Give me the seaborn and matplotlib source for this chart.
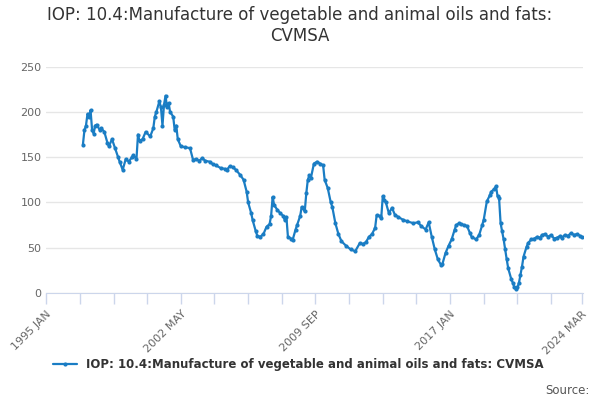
import matplotlib

matplotlib.use("Agg")
import matplotlib.pyplot as plt
import pandas as pd
import seaborn as sns

# months since 1995 JAN
month_offset = [
    24, 25, 26, 27, 28, 29, 30, 31, 32, 33, 35, 36, 38, 40, 41, 43, 45, 47, 48, 50,
    52, 54, 56, 57, 59, 60, 61, 63, 65, 68, 70, 71, 72, 74, 75, 76, 77, 78, 79, 80,
    81, 83, 84, 85, 86, 88, 91, 94, 96, 98, 100, 102, 104, 107, 109, 111, 114, 117, 118, 120,
    122, 124, 127, 129, 131, 132, 134, 135, 137, 138, 140, 142, 144, 146, 147, 148, 149, 151, 153, 155,
    156, 157, 158, 160, 161, 163, 164, 166, 167, 169, 170, 171, 172, 173, 175, 177, 179, 181, 182, 184,
    186, 187, 189, 191, 193, 196, 199, 202, 205, 207, 209, 211, 213, 215, 216, 218, 219, 220, 221, 222,
    224, 226, 228, 230, 233, 236, 240, 243, 245, 248, 250, 252, 254, 256, 258, 259, 261, 263, 265, 267,
    268, 270, 271, 273, 275, 277, 278, 281, 283, 285, 286, 288, 290, 291, 293, 294, 295, 296, 297, 298,
    299, 300, 301, 302, 304, 305, 306, 307, 308, 309, 310, 311, 312, 314, 315, 317, 319, 321, 323, 324,
    326, 328, 330, 332, 334, 336, 337, 339, 341, 343, 345, 347, 349, 350,
]
values = [
    164, 180, 185, 198, 195, 202, 180, 176, 185, 186, 180, 182, 178, 166, 162, 170, 160, 150, 145, 136,
    148, 145, 150, 152, 148, 175, 168, 170, 178, 173, 182, 195, 200, 212, 205, 185, 208, 218, 205, 210,
    200, 195, 180, 185, 170, 162, 161, 160, 147, 148, 146, 149, 146, 145, 142, 141, 138, 137, 136, 140,
    139, 136, 130, 125, 112, 100, 88, 80, 68, 63, 62, 65, 73, 76, 85, 106, 97, 92, 88, 85,
    80, 84, 62, 60, 58, 70, 75, 85, 95, 90, 110, 125, 130, 127, 143, 145, 143, 141, 125, 116,
    100, 95, 77, 65, 57, 52, 48, 46, 55, 54, 56, 62, 65, 72, 86, 85, 83, 107, 103, 100,
    88, 94, 86, 84, 81, 79, 77, 78, 74, 70, 78, 62, 48, 37, 31, 32, 44, 52, 59, 70,
    75, 77, 76, 75, 74, 66, 62, 59, 64, 75, 81, 101, 108, 112, 115, 118, 107, 105, 77, 68,
    59, 48, 37, 27, 15, 11, 6, 4, 6, 11, 20, 29, 40, 51, 55, 59, 60, 62, 61, 64,
    65, 62, 64, 60, 61, 63, 61, 64, 63, 66, 64, 65, 63, 62,
]
tick_pos = [0, 88, 176, 264, 350]
tick_labels = ["1995 JAN", "2002 MAY", "2009 SEP", "2017 JAN", "2024 MAR"]
series_name = "IOP: 10.4:Manufacture of vegetable and animal oils and fats: CVMSA"

df = pd.DataFrame({"month": month_offset, "value": values})

sns.set_style("white")
fig = plt.figure(figsize=(6, 4), dpi=100)
ax = fig.add_axes([0.077, 0.268, 0.895, 0.565])

sns.lineplot(data=df, x="month", y="value", ax=ax, color="#1a7dc4", linewidth=1.6,
             marker="o", markersize=3, markeredgewidth=0, label=series_name)

ax.set_xlim(0, 351)
ax.set_ylim(0, 250)
ax.set_yticks(range(0, 251, 50))
ax.yaxis.grid(True, color="#e6e6e6", linewidth=1)
ax.set_axisbelow(True)
ax.set_xticks(tick_pos)
ax.set_xticklabels(tick_labels, rotation=45, ha="right", rotation_mode="anchor",
                   fontsize=8, color="#666666")
ax.set_xticks([m for m in range(22, 351, 22) if m not in tick_pos], minor=True)
ax.tick_params(axis="x", which="both", length=8, width=1, color="#ccd6eb",
               direction="out", bottom=True)
ax.tick_params(axis="y", length=0, labelsize=8, labelcolor="#666666")
for s in ["top", "right", "left"]:
    ax.spines[s].set_visible(False)
ax.spines["bottom"].set_color("#ccd6eb")
ax.spines["bottom"].set_zorder(5)
ax.set_xlabel("")
ax.set_ylabel("")

fig.suptitle("IOP: 10.4:Manufacture of vegetable and animal oils and fats:\nCVMSA",
             y=0.985, fontsize=12, color="#333333")
ax.legend(loc="upper center", bbox_to_anchor=(0.47, -0.24), frameon=False,
          prop={"size": 8.5, "weight": "bold"}, labelcolor="#333333", handlelength=2)
fig.text(0.982, 0.015, "Source:", ha="right", fontsize=8.5, color="#555555")

plt.savefig("out.png", dpi=100)
